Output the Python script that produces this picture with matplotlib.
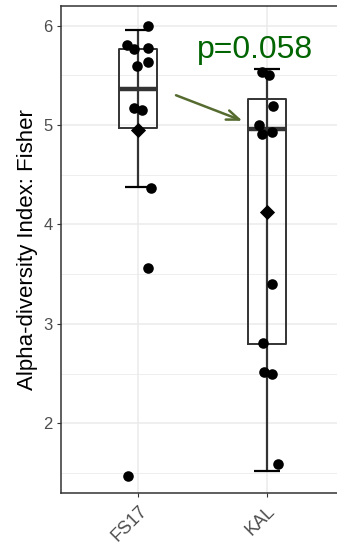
import matplotlib
matplotlib.use("Agg")
import matplotlib.pyplot as plt
import numpy as np
from matplotlib.ticker import MultipleLocator

plt.rcParams['font.family'] = ['Liberation Sans', 'DejaVu Sans']

groups = ["FS17", "KAL"]
fs17_x = [1.08, 0.91, 0.97, 1.08, 1.08, 0.99, 0.97, 1.03, 1.10, 1.08, 0.92]
fs17_y = [6.00, 5.81, 5.77, 5.78, 5.63, 5.59, 5.17, 5.155, 4.37, 3.56, 1.47]
kal_x = [1.96, 2.02, 2.05, 1.94, 1.96, 2.04, 2.04, 1.97, 1.98, 2.04, 2.09]
kal_y = [5.53, 5.50, 5.195, 5.00, 4.91, 4.93, 3.40, 2.81, 2.515, 2.50, 1.59]

q1 = [4.97, 2.80]
med = [5.36, 4.96]
q3 = [5.77, 5.265]
whislo = [4.38, 1.52]
whishi = [5.96, 5.56]
means = [4.95, 4.13]
p_label = "p=0.058"

fig = plt.figure(figsize=(3.37, 5.47), dpi=100)
ax = fig.add_axes([61/337, 54/547, 283/337, 487/547])

ax.set_xlim(0.4, 2.6)
ax.set_ylim(1.298, 6.198)
ax.yaxis.set_major_locator(MultipleLocator(1))
ax.yaxis.set_minor_locator(MultipleLocator(0.5))
ax.grid(which='major', color='#EBEBEB', lw=1.1, zorder=0)
ax.grid(which='minor', axis='y', color='#EBEBEB', lw=0.6, zorder=0)
ax.set_axisbelow(True)

pos = [1, 2]
stats = []
for i in range(2):
    stats.append(dict(med=med[i], q1=q1[i], q3=q3[i], whislo=whislo[i], whishi=whishi[i], fliers=[]))
ax.bxp(stats, positions=pos, widths=0.3, showcaps=False, showfliers=False,
       boxprops=dict(color='#333333', lw=1.4),
       medianprops=dict(color='#333333', lw=3.2),
       whiskerprops=dict(color='none'), manage_ticks=False, zorder=2)
for i in range(2):
    ax.vlines(pos[i], whislo[i], whishi[i], color='#333333', lw=1.6, zorder=3)
    ax.hlines([whislo[i], whishi[i]], pos[i]-0.1, pos[i]+0.1, color='black', lw=1.6, zorder=3)

ax.scatter(fs17_x, fs17_y, s=58, color='black', zorder=4, linewidths=0)
ax.scatter(kal_x, kal_y, s=58, color='black', zorder=4, linewidths=0)
ax.scatter(pos, means, marker='D', s=60, color='black', zorder=5, linewidths=0)

ax.text(1.91, 5.755, p_label, color='#006400', fontsize=23, ha='center', va='center', zorder=6)
ax.annotate("", xy=(1.83, 5.033), xytext=(1.274, 5.31),
            arrowprops=dict(arrowstyle='->,head_length=0.9,head_width=0.35', color='#556B2F', lw=1.8),
            zorder=6)

ax.set_xticks(pos)
ax.set_xticklabels(groups, rotation=45, ha='right', va='top', rotation_mode='anchor',
                   color='#4D4D4D', fontsize=13)
ax.tick_params(axis='y', labelcolor='#4D4D4D', labelsize=12, color='#333333', length=3, pad=3)
ax.tick_params(axis='x', color='#333333', length=3, pad=4)
ax.tick_params(which='minor', length=0)
for s in ax.spines.values():
    s.set_color('#333333')
    s.set_linewidth(1.1)
ax.spines['right'].set_visible(False)
ax.set_ylabel("Alpha-diversity Index: Fisher", fontsize=16, color='black', labelpad=4)

fig.savefig("out.png", dpi=100)
